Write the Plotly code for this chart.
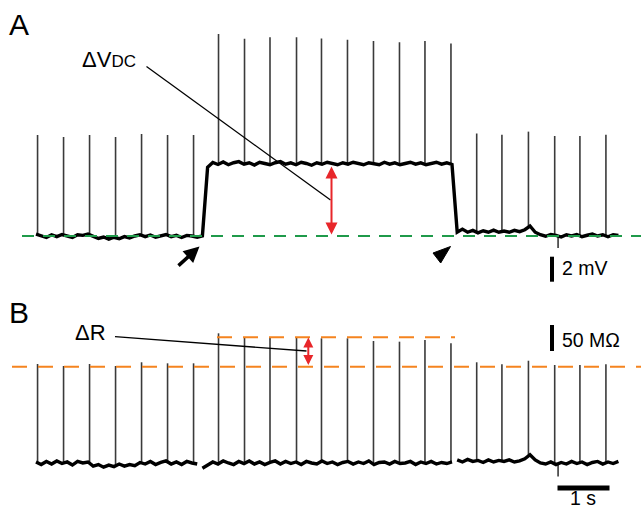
import numpy as np
import plotly.graph_objects as go

# ---------------- data ----------------
# stimulus / spike times (s) shared by both panels
spike_times = [0.03, 0.53, 1.03, 1.53, 2.03, 2.53, 3.03,
               3.51, 4.01, 4.50, 5.01, 5.49, 5.99, 6.49, 6.99, 7.48, 7.98,
               8.475, 8.96, 9.47, 9.975, 10.46, 10.96]
# panel A: spike peaks (mV, relative to baseline)
spike_peak_mv = [8.08, 7.92, 8.08, 7.92, 8.16, 8.08, 8.08,
                 16.16, 15.78, 15.9, 15.9, 15.8, 15.7, 15.6, 15.5, 15.6, 15.4,
                 8.2, 8.1, 8.35, 8.0, 8.0, 8.1]
# panel B: resistance peaks (MOhm)
spike_peak_mohm = [190.4, 186.5, 190.4, 186.5, 193.7, 191.7, 191.7,
                   249.4, 241.7, 241.7, 241.7, 239.8, 239.8, 234.6, 233.3, 236.5, 230.2,
                   193.7, 189.8, 196.7, 188.5, 188.5, 189.8]

# panel A: membrane voltage trace (mV), sampled every 0.1 s from t = 0
vm_t0 = 0.0
vm_dt = 0.1
vm_trace = [0.15, 0.05, -0.12, 0.1, -0.05, 0.12, 0.0, -0.12, 0.1, 0.05,
            0.15, -0.05, -0.2, -0.08, -0.25, -0.1, -0.22, -0.05, -0.15, 0.0,
            0.1, -0.05, 0.08, -0.1, 0.0, 0.12, -0.05, 0.05, -0.12, 0.05,
            0.0, -0.1, 0.0, 5.5, 5.88, 5.72, 5.92, 5.7, 5.86, 5.95,
            5.74, 5.86, 5.68, 5.9, 5.8, 5.7, 5.86, 5.95, 5.74, 5.85,
            5.7, 5.9, 5.8, 5.66, 5.86, 5.74, 5.9, 5.8, 5.7, 5.86,
            5.75, 5.9, 5.8, 5.7, 5.86, 5.8, 5.7, 5.9, 5.75, 5.85,
            5.7, 5.8, 5.9, 5.75, 5.85, 5.7, 5.8, 5.9, 5.75, 5.85,
            5.72, 0.3, 0.55, 0.3, 0.45, 0.25, 0.42, 0.3, 0.47, 0.3,
            0.4, 0.3, 0.45, 0.35, 0.5, 0.8, 0.3, 0.1, -0.02, 0.12,
            0.05, -0.08, 0.1, 0.0, 0.12, -0.06, 0.06, 0.15, 0.0, 0.1,
            -0.06, 0.1, 0.05]

# panel B: resistance trace (MOhm), three recording segments, 0.1 s sampling
r_dt = 0.1
r_seg_t0 = [0.0, 3.2, 8.1]
r_segments = [
    [2, -3, 3, -2, 4, -1, 2, -4, 3, 0, 2, -6, -3, -8, -4, -7, -2, -6, -3, -5,
     1, -2, 3, -3, 1, 4, -2, 2, -3, 3, 0, -2],
    [-10, -4, 2, -2, 4, 0, -3, 3, -1, 4, -2, 2, -3, 1, 4, -2, 3, -1, 2, -3,
     3, 0, -2, 4, -1, 2, -3, 1, 3, -2, 2, -1, 4, -3, 1, 2, -2, 3, -1, 0,
     3, -3, 2, -1, 3, -2, 1, -1, 2],
    [6, 2, 7, 3, 5, 1, 6, 2, 5, 3, 6, 2, 4, 8, 16, 6, 0, -2, 2, -3,
     1, -2, 3, -1, 2, -3, 1, 3, -2, 2, -1, 3],
]

# stimulus artefact (downward tick)
artifact_t = [10.04]
artifact_min_mv = [-0.96]
artifact_min_mohm = [-26.0]

# reference levels
baseline_mv = 0.0
r_low_mohm = 185.2
r_high_mohm = 241.7

# ---------------- geometry helpers ----------------
W, H = 641, 510
PX_PER_S = 52.0
T_LEFT = -36 / PX_PER_S
T_RIGHT = (W - 36) / PX_PER_S
MV_PER_PX = 1 / 12.5
YA_RANGE = [(236 - H) * MV_PER_PX, 236 * MV_PER_PX]
OHM_PER_PX = 1 / 0.52
YB_RANGE = [(463 - H) * OHM_PER_PX, 463 * OHM_PER_PX]


def tpx(x):
    return (x - 36) / PX_PER_S


def vpx(y):
    return (236 - y) * MV_PER_PX


def rpx(y):
    return (463 - y) * OHM_PER_PX


def ppx(x):
    return x / W


def ppy(y):
    return 1 - y / H


FONT = "Liberation Sans, Arial, Helvetica, sans-serif"
SPIKE_COLOR = "#3a3a3a"

fig = go.Figure()

# ----- panel A -----
vm_t = [vm_t0 + vm_dt * i for i in range(len(vm_trace))]
xs, ys = [], []
for t, pk in zip(spike_times, spike_peak_mv):
    base = float(np.interp(t, vm_t, vm_trace))
    xs += [t, t, None]
    ys += [base, pk, None]
for t, mn in zip(artifact_t, artifact_min_mv):
    base = float(np.interp(t, vm_t, vm_trace))
    xs += [t, t, None]
    ys += [base, mn, None]
fig.add_trace(go.Scatter(x=xs, y=ys, mode="lines", yaxis="y",
                         line=dict(color=SPIKE_COLOR, width=1.6),
                         hoverinfo="skip", showlegend=False))
fig.add_trace(go.Scatter(x=vm_t, y=vm_trace, mode="lines", yaxis="y",
                         line=dict(color="black", width=3.4),
                         hoverinfo="skip", showlegend=False))

# ----- panel B -----
rt_all, rv_all = [], []
rt_plot, rv_plot = [], []
for t0, seg in zip(r_seg_t0, r_segments):
    ts = [t0 + r_dt * i for i in range(len(seg))]
    rt_all += ts
    rv_all += seg
    rt_plot += ts + [None]
    rv_plot += seg + [None]
xs, ys = [], []
for t, pk in zip(spike_times, spike_peak_mohm):
    base = float(np.interp(t, rt_all, rv_all))
    xs += [t, t, None]
    ys += [base, pk, None]
for t, mn in zip(artifact_t, artifact_min_mohm):
    base = float(np.interp(t, rt_all, rv_all))
    xs += [t, t, None]
    ys += [base, mn, None]
fig.add_trace(go.Scatter(x=xs, y=ys, mode="lines", yaxis="y2",
                         line=dict(color=SPIKE_COLOR, width=1.6),
                         hoverinfo="skip", showlegend=False))
fig.add_trace(go.Scatter(x=rt_plot, y=rv_plot, mode="lines", yaxis="y2",
                         line=dict(color="black", width=3.4),
                         hoverinfo="skip", showlegend=False))

shapes = []
# green dashed baseline (A)
shapes.append(dict(type="line", xref="x", yref="y", x0=tpx(22), x1=T_RIGHT,
                   y0=baseline_mv, y1=baseline_mv, layer="above",
                   line=dict(color="#1f9a4a", width=2, dash="12px,9px")))
# orange dashed lines (B)
shapes.append(dict(type="line", xref="x", yref="y2", x0=tpx(12), x1=T_RIGHT,
                   y0=r_low_mohm, y1=r_low_mohm, layer="above",
                   line=dict(color="#f5841f", width=2, dash="15px,11px")))
shapes.append(dict(type="line", xref="x", yref="y2", x0=tpx(217), x1=tpx(455),
                   y0=r_high_mohm, y1=r_high_mohm, layer="above",
                   line=dict(color="#f5841f", width=2, dash="15px,11px")))
# leader lines
shapes.append(dict(type="line", xref="x", yref="y", x0=tpx(146.5), y0=vpx(66.5),
                   x1=tpx(330.5), y1=vpx(200), layer="above",
                   line=dict(color="black", width=1.3)))
shapes.append(dict(type="line", xref="x", yref="y2", x0=tpx(115), y0=rpx(336.7),
                   x1=tpx(306.5), y1=rpx(351), layer="above",
                   line=dict(color="black", width=1.3)))
# filled arrowhead marking the step offset
shapes.append(dict(type="path", xref="x", yref="y", layer="above",
                   path="M {} {} L {} {} L {} {} Z".format(
                       tpx(433), vpx(253), tpx(450.5), vpx(246.5), tpx(440.7), vpx(263)),
                   fillcolor="black", line=dict(color="black", width=1)))
# scale bars
shapes.append(dict(type="line", xref="x", yref="y", x0=tpx(552), x1=tpx(552),
                   y0=vpx(256.7), y1=vpx(256.7) - 2.0,
                   line=dict(color="black", width=4)))
shapes.append(dict(type="line", xref="x", yref="y2", x0=tpx(552), x1=tpx(552),
                   y0=rpx(351), y1=rpx(351) + 50.0,
                   line=dict(color="black", width=4)))
shapes.append(dict(type="line", xref="x", yref="y2", x0=tpx(557.5), x1=tpx(557.5) + 1.0,
                   y0=rpx(488), y1=rpx(488),
                   line=dict(color="black", width=5)))

annotations = []


def label(text, x, y, size, xanchor="left"):
    annotations.append(dict(text=text, x=ppx(x), y=ppy(y), xref="paper", yref="paper",
                            xanchor=xanchor, yanchor="middle", showarrow=False,
                            borderpad=0,
                            font=dict(family=FONT, size=size, color="black")))


label("A", 8, 24, 30)
label("B", 8, 312, 30)
label("ΔV<span style='font-size:17px'>DC</span>", 81, 59, 22)
label("ΔR", 74, 332, 22)
label("2 mV", 561, 268, 19.5)
label("50 MΩ", 561, 340, 19.5)
label("1 s", 583, 498, 19.5, xanchor="center")

# red double arrows
annotations.append(dict(x=tpx(331.5), y=vpx(166.5), ax=tpx(331.5), ay=vpx(236),
                        xref="x", yref="y", axref="x", ayref="y", text="",
                        showarrow=True, arrowhead=2, arrowside="end+start",
                        arrowsize=1.2, arrowwidth=2, arrowcolor="#e8262a"))
annotations.append(dict(x=tpx(308.3), y=rpx(337.5), ax=tpx(308.3), ay=rpx(366.5),
                        xref="x", yref="y2", axref="x", ayref="y2", text="",
                        showarrow=True, arrowhead=2, arrowside="end+start",
                        arrowsize=1.0, arrowwidth=2, arrowcolor="#e8262a"))
# black arrow marking the step onset
annotations.append(dict(x=tpx(199.5), y=vpx(246.5), ax=tpx(177), ay=vpx(267),
                        xref="x", yref="y", axref="x", ayref="y", text="",
                        showarrow=True, arrowhead=2, arrowsize=0.9,
                        arrowwidth=3.5, arrowcolor="black"))

fig.update_layout(
    width=W, height=H,
    margin=dict(l=0, r=0, t=0, b=0),
    paper_bgcolor="white", plot_bgcolor="white",
    showlegend=False,
    xaxis=dict(range=[T_LEFT, T_RIGHT], visible=False, fixedrange=True),
    yaxis=dict(range=YA_RANGE, visible=False, fixedrange=True),
    yaxis2=dict(range=YB_RANGE, visible=False, overlaying="y", fixedrange=True),
    shapes=shapes,
    annotations=annotations,
)

fig.write_html(
    "out.html",
    config={"displayModeBar": False},
    post_script="document.body.style.margin='0';document.body.style.overflow='hidden';",
)
